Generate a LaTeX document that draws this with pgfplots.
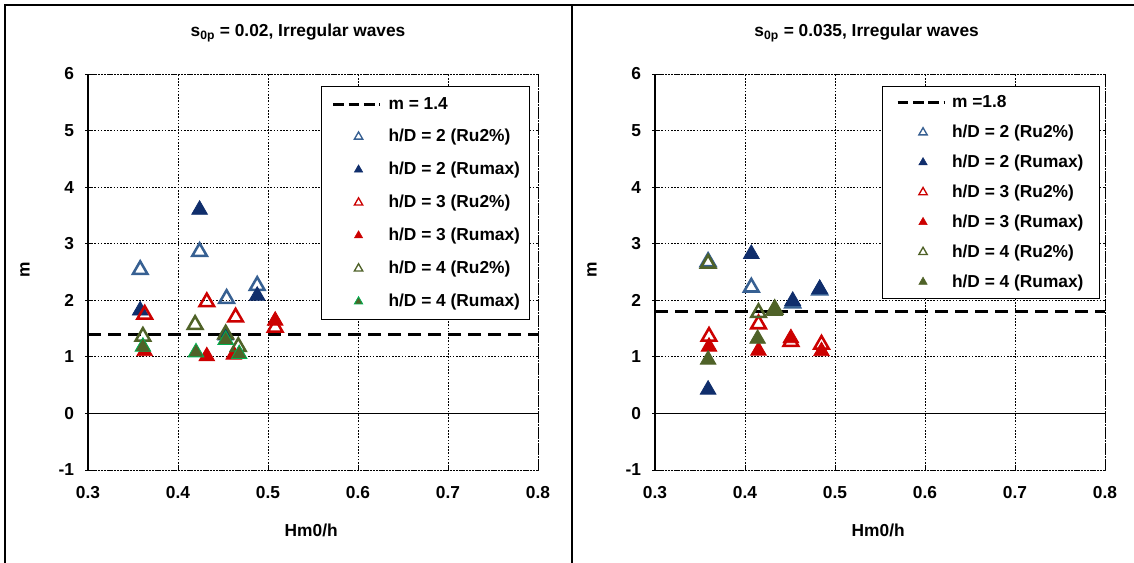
\documentclass[border=0pt]{standalone}
\usepackage{pgfplots}
\pgfplotsset{compat=1.18}
\usepackage{fontspec}
\setmainfont{Liberation Sans}
\definecolor{blueO}{RGB}{55,96,146}
\definecolor{blueF}{RGB}{16,46,108}
\definecolor{redC}{RGB}{204,0,0}
\definecolor{oliveC}{RGB}{79,98,40}
\definecolor{greenE}{RGB}{0,176,80}
\newcommand{\fs}{\fontsize{13}{15}\selectfont\bfseries}
\newcommand{\legL}{-3.75pt}
\newcommand{\legR}{39.5pt}
\newcommand{\legtri}[4]{\path[draw=none,fill=none] (\legL,-4pt) rectangle (\legR,4pt);
  \draw[draw=none] plot[mark=#1, mark size=3.6pt, mark options={draw=#2, fill=#3, line width=#4, solid}] coordinates {(19pt,0pt)};}
\newcommand{\legline}{\path[draw=none,fill=none] (\legL,-4pt) rectangle (\legR,4pt);
  \draw[black, line width=2.2pt, dash pattern=on 8pt off 3.5pt] (0pt,0pt) -- (35pt,0pt);}
\pgfplotsset{
  myax/.style={
    scale only axis, width=337.5pt, height=297pt,
    xmin=0.3, xmax=0.8, ymin=-1, ymax=6,
    xtick={0.3,0.4,0.5,0.6,0.7,0.8}, xticklabels={0.3,0.4,0.5,0.6,0.7,0.8},
    ytick={-1,0,1,2,3,4,5,6}, yticklabels={-1,0,1,2,3,4,5,6},
    grid=major, grid style={black, line width=0.6pt, dash pattern=on 1.2pt off 1.2pt},
    axis line style={black, line width=0.6pt, dash pattern=on 1.2pt off 1.2pt},
    tick pos=left, ytick align=center, xtick align=inside, major tick length=4pt,
    tick style={black, line width=0.6pt, solid},
    ticklabel style={font=\fs},
    xticklabel style={yshift=-9pt},
    yticklabel style={xshift=-5pt},
    xlabel={Hm0/h}, ylabel={m},
    label style={font=\fs},
    xlabel style={at={(axis description cs:0.496,-0.152)}, anchor=center},
    ylabel style={at={(axis description cs:-0.14,0.505)}, anchor=center},
    clip=false,
    legend cell align=left,
  },
  opn/.style={only marks, mark=triangle, mark size=6.3pt, mark options={draw=#1, line width=1.9pt, solid}},
  fil/.style 2 args={only marks, mark=triangle*, mark size=6.8pt, mark options={draw=#1, fill=#2, line width=0.6pt, solid}},
}
\begin{document}
\begin{tikzpicture}
\useasboundingbox (0,0) rectangle (850.5pt,421.5pt);
\draw[line width=1.1pt] (3.75pt,-3pt) -- (3.75pt,417.75pt) -- (855pt,417.75pt);
\draw[line width=1.1pt] (429pt,-3pt) -- (429pt,417.75pt);
\node[font=\fs] at (223.5pt,396.75pt) {s\textsubscript{0p} = 0.02, Irregular waves};
\node[font=\fs] at (650pt,396.75pt) {s\textsubscript{0p} = 0.035, Irregular waves};

% ---------------- left panel ----------------
\begin{axis}[myax, at={(66pt,69pt)}, anchor=south west,
  legend style={at={(0.982,0.97)}, anchor=north east, draw=black, line width=0.8pt, fill=white,
    font=\fs, inner xsep=5pt, inner ysep=6pt, row sep=9.8pt}]
\draw[black, line width=0.8pt, solid] (axis cs:0.3,-1) -- (axis cs:0.3,6);
\draw[black, line width=0.8pt, solid] (axis cs:0.3,0) -- (axis cs:0.8,0);
\addplot[black, line width=2.6pt, dash pattern=on 10pt off 5pt,
  legend image code/.code={\legline}]
  coordinates {(0.3,1.4) (0.8,1.4)};
\addlegendentry{m = 1.4}
\addplot[opn=blueO, legend image code/.code={\legtri{triangle}{blueO}{white}{1pt}}]
  coordinates {(0.358,2.54) (0.424,2.86) (0.454,2.03) (0.488,2.26)};
\addlegendentry{h/D = 2 (Ru2\%)}
\addplot[fil={blueF}{blueF}, legend image code/.code={\legtri{triangle*}{blueF}{blueF}{0.4pt}}]
  coordinates {(0.358,1.82) (0.424,3.60) (0.488,2.08) (0.453,1.38)};
\addlegendentry{h/D = 2 (Rumax)}
\addplot[opn=redC, legend image code/.code={\legtri{triangle}{redC}{white}{1pt}}]
  coordinates {(0.363,1.75) (0.432,1.97) (0.464,1.70) (0.508,1.52)};
\addlegendentry{h/D = 3 (Ru2\%)}
\addplot[fil={redC}{redC}, legend image code/.code={\legtri{triangle*}{redC}{redC}{0.4pt}}]
  coordinates {(0.363,1.10) (0.432,1.01) (0.462,1.04) (0.508,1.64)};
\addlegendentry{h/D = 3 (Rumax)}
\addplot[opn=oliveC, legend image code/.code={\legtri{triangle}{oliveC}{white}{1pt}}]
  coordinates {(0.361,1.36) (0.419,1.57) (0.467,1.18) (0.453,1.40)};
\addlegendentry{h/D = 4 (Ru2\%)}
\addplot[fil={greenE}{oliveC}, legend image code/.code={\legtri{triangle*}{greenE}{oliveC}{0.6pt}}]
  coordinates {(0.361,1.18) (0.420,1.08) (0.453,1.30) (0.468,1.05)};
\addlegendentry{h/D = 4 (Rumax)}
\end{axis}

% ---------------- right panel ----------------
\renewcommand{\legL}{0pt}
\renewcommand{\legR}{38.75pt}
\begin{axis}[myax, at={(491.25pt,69pt)}, anchor=south west,
  legend style={at={(0.989,0.97)}, anchor=north east, draw=black, line width=0.8pt, fill=white,
    font=\fs, inner xsep=10pt, inner ysep=5pt, row sep=7.5pt}]
\draw[black, line width=0.8pt, solid] (axis cs:0.3,-1) -- (axis cs:0.3,6);
\draw[black, line width=0.8pt, solid] (axis cs:0.3,0) -- (axis cs:0.8,0);
\addplot[black, line width=2.6pt, dash pattern=on 10pt off 5pt,
  legend image code/.code={\legline}]
  coordinates {(0.3,1.8) (0.8,1.8)};
\addlegendentry{m =1.8}
\addplot[opn=blueO, legend image code/.code={\legtri{triangle}{blueO}{white}{1pt}}]
  coordinates {(0.359,2.68) (0.407,2.23) (0.453,1.95) (0.483,2.18)};
\addlegendentry{h/D = 2 (Ru2\%)}
\addplot[fil={blueF}{blueF}, legend image code/.code={\legtri{triangle*}{blueF}{blueF}{0.4pt}}]
  coordinates {(0.359,0.42) (0.407,2.82) (0.453,1.99) (0.483,2.20)};
\addlegendentry{h/D = 2 (Rumax)}
\addplot[opn=redC, legend image code/.code={\legtri{triangle}{redC}{white}{1pt}}]
  coordinates {(0.360,1.36) (0.415,1.58) (0.451,1.27) (0.485,1.22)};
\addlegendentry{h/D = 3 (Ru2\%)}
\addplot[fil={redC}{redC}, legend image code/.code={\legtri{triangle*}{redC}{redC}{0.4pt}}]
  coordinates {(0.360,1.18) (0.415,1.11) (0.451,1.33) (0.485,1.10)};
\addlegendentry{h/D = 3 (Rumax)}
\addplot[opn=oliveC, legend image code/.code={\legtri{triangle}{oliveC}{white}{1pt}}]
  coordinates {(0.359,2.65) (0.415,1.78) (0.433,1.84)};
\addlegendentry{h/D = 4 (Ru2\%)}
\addplot[fil={oliveC}{oliveC}, legend image code/.code={\legtri{triangle*}{oliveC}{oliveC}{0.4pt}}]
  coordinates {(0.359,0.95) (0.414,1.32) (0.433,1.81)};
\addlegendentry{h/D = 4 (Rumax)}
\end{axis}
\end{tikzpicture}
\end{document}
